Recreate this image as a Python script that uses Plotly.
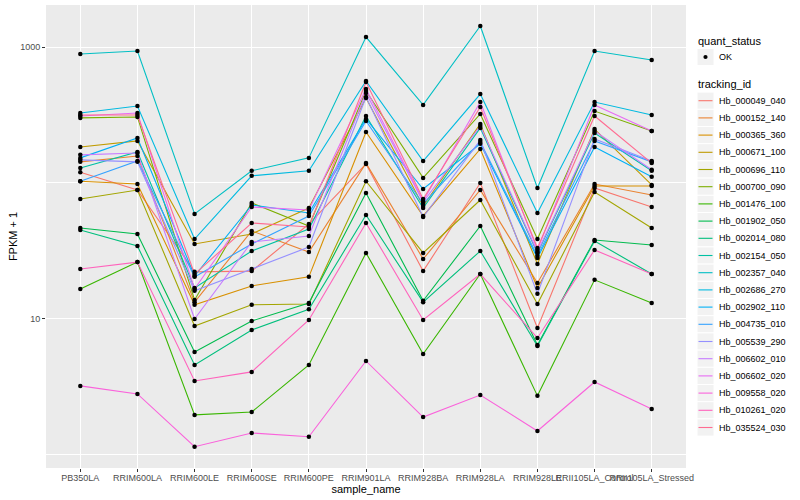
import plotly.graph_objects as go

samples = ["PB350LA", "RRIM600LA", "RRIM600LE", "RRIM600SE", "RRIM600PE", "RRIM901LA",
           "RRIM928BA", "RRIM928LA", "RRIM928LE", "RRII105LA_Control", "RRII105LA_Stressed"]

tracking_ids = ["Hb_000049_040", "Hb_000152_140", "Hb_000365_360", "Hb_000671_100", "Hb_000696_110",
                "Hb_000700_090", "Hb_001476_100", "Hb_001902_050", "Hb_002014_080", "Hb_002154_050",
                "Hb_002357_040", "Hb_002686_270", "Hb_002902_110", "Hb_004735_010", "Hb_005539_290",
                "Hb_006602_010", "Hb_006602_020", "Hb_009558_020", "Hb_010261_020", "Hb_035524_030"]

colors = ["#F8766D", "#EA8331", "#D89000", "#C09B00", "#A3A500", "#7CAE00", "#39B600", "#00BB4E",
          "#00BF7D", "#00C1A3", "#00BFC4", "#00BAE0", "#00B0F6", "#35A2FF", "#9590FF", "#C77CFF",
          "#E76BF3", "#FA62DB", "#FF62BC", "#FF6C91"]

quant_status = ["OK"]

# FPKM + 1 per sample (order of `samples`)
hb_000049_040 = [120, 88.8, 22.2, 22.5, 49.9, 138, 22.5, 100, 8.59, 91.9, 66.6]
hb_000152_140 = [143, 158, 13.3, 44.4, 31.1, 140, 27.6, 88.8, 18.4, 98.3, 81.6]
hb_000365_360 = [103, 98.3, 12.7, 17.5, 20.4, 237, 57.2, 178, 16.9, 95.0, 95.0]
hb_000671_100 = [184, 204, 35.6, 42.2, 65.5, 422, 67.8, 272, 25.4, 249, 96.7]
hb_000696_110 = [76.3, 88.8, 8.88, 12.7, 12.9, 103, 30.6, 75.0, 12.9, 85.9, 46.7]
hb_000700_090 = [301, 306, 13.8, 71.3, 48.3, 475, 109, 322, 38.7, 338, 241]
hb_001476_100 = [16.6, 26.2, 1.97, 2.07, 4.59, 30.6, 5.53, 21.4, 2.72, 19.4, 13.1]
hb_001902_050 = [46.7, 42.2, 5.72, 9.67, 13.1, 84.4, 13.6, 48.3, 6.44, 38.1, 35.0]
hb_002014_080 = [45.1, 34.4, 4.59, 8.30, 11.8, 58.2, 13.3, 31.6, 6.33, 37.5, 21.4]
hb_002154_050 = [129, 169, 16.9, 31.6, 45.9, 311, 65.5, 254, 30.6, 233, 123]
hb_002357_040 = [888, 935, 59.2, 123, 153, 1184, 375, 1427, 91.9, 935, 802]
hb_002686_270 = [327, 368, 38.7, 113, 123, 562, 145, 451, 60.2, 394, 316]
hb_002902_110 = [153, 214, 20.7, 68.9, 60.2, 296, 90.3, 194, 28.1, 184, 111]
hb_004735_010 = [103, 145, 20.4, 35.6, 57.2, 286, 70.1, 200, 29.1, 204, 143]
hb_005539_290 = [148, 143, 16.1, 23.3, 33.8, 429, 56.2, 207, 15.3, 211, 145]
hb_006602_010 = [161, 166, 10.0, 36.8, 40.8, 459, 72.5, 262, 31.1, 241, 125]
hb_006602_020 = [311, 327, 16.6, 66.6, 63.3, 491, 73.7, 394, 32.2, 375, 241]
hb_009558_020 = [3.22, 2.81, 1.15, 1.45, 1.36, 4.91, 1.90, 2.76, 1.50, 3.44, 2.18]
hb_010261_020 = [23.3, 26.2, 3.50, 4.08, 9.83, 50.8, 9.83, 21.4, 7.25, 32.2, 21.4]
hb_035524_030 = [316, 316, 21.4, 50.8, 47.5, 553, 76.3, 362, 33.3, 311, 140]

series = [hb_000049_040, hb_000152_140, hb_000365_360, hb_000671_100, hb_000696_110,
          hb_000700_090, hb_001476_100, hb_001902_050, hb_002014_080, hb_002154_050,
          hb_002357_040, hb_002686_270, hb_002902_110, hb_004735_010, hb_005539_290,
          hb_006602_010, hb_006602_020, hb_009558_020, hb_010261_020, hb_035524_030]

FONT = "Liberation Sans, Arial, sans-serif"
W, H = 800, 500
ML, MR, MT, MB = 46, 114, 5, 32
PW, PH = W - ML - MR, H - MT - MB


def px(xp):
    return (xp - ML) / PW


def py(yp):
    return (H - MB - yp) / PH


fig = go.Figure()

for name, col, vals in zip(tracking_ids, colors, series):
    fig.add_trace(go.Scatter(
        x=samples, y=vals, mode="lines", name=name,
        line=dict(color=col, width=1.1), showlegend=False, hoverinfo="skip"))

all_x, all_y = [], []
for vals in series:
    all_x += samples
    all_y += vals
fig.add_trace(go.Scatter(
    x=all_x, y=all_y, mode="markers", name=quant_status[0],
    marker=dict(color="black", size=4.5), showlegend=False))

# ---- ggplot-style legends (built from the category lists) ----
shapes, annotations = [], []
KEY_X0, KEY_X1, TEXT_X = 697, 714, 717
KEY_H = 17.2


def add_title(text, yc):
    annotations.append(dict(text=text, x=px(696), y=py(yc), xref="paper", yref="paper",
                            xanchor="left", yanchor="middle", showarrow=False,
                            font=dict(size=11, color="black", family=FONT)))


def add_key(yc, label):
    shapes.append(dict(type="rect", xref="paper", yref="paper",
                       x0=px(KEY_X0), x1=px(KEY_X1), y0=py(yc + KEY_H / 2), y1=py(yc - KEY_H / 2),
                       fillcolor="#F2F2F2", line=dict(color="white", width=1), layer="above"))
    annotations.append(dict(text=label, x=px(TEXT_X), y=py(yc), xref="paper", yref="paper",
                            xanchor="left", yanchor="middle", showarrow=False,
                            font=dict(size=9, color="black", family=FONT)))


add_title("quant_status", 41)
for i, q in enumerate(quant_status):
    yc = 57 + i * KEY_H
    add_key(yc, q)
    r = 2.1
    xc = (KEY_X0 + KEY_X1) / 2
    shapes.append(dict(type="circle", xref="paper", yref="paper",
                       x0=px(xc - r), x1=px(xc + r), y0=py(yc + r), y1=py(yc - r),
                       fillcolor="black", line=dict(color="black", width=0), layer="above"))

add_title("tracking_id", 84)
for i, (tid, col) in enumerate(zip(tracking_ids, colors)):
    yc = 100.7 + i * KEY_H
    add_key(yc, tid)
    shapes.append(dict(type="line", xref="paper", yref="paper",
                       x0=px(KEY_X0 + 1.5), x1=px(KEY_X1 - 1.5), y0=py(yc), y1=py(yc),
                       line=dict(color=col, width=1.1), layer="above"))

fig.update_layout(
    width=W, height=H,
    margin=dict(l=ML, r=MR, t=MT, b=MB, autoexpand=False),
    paper_bgcolor="white", plot_bgcolor="#EBEBEB",
    font=dict(family=FONT, size=9, color="#4D4D4D"),
    showlegend=False, shapes=shapes, annotations=annotations,
)

fig.update_xaxes(
    type="category", categoryorder="array", categoryarray=samples,
    range=[-0.6, len(samples) - 0.4], automargin=False,
    showgrid=True, gridcolor="white", gridwidth=1.1,
    ticks="outside", ticklen=3, tickcolor="#333333", tickwidth=1,
    ticklabelstandoff=-2,
    tickangle=0, tickfont=dict(size=9, color="#4D4D4D", family=FONT),
    title=dict(text="sample_name", font=dict(size=11, color="black", family=FONT), standoff=0),
    zeroline=False, showline=False)

fig.update_yaxes(
    type="log", range=[-0.096, 3.309], automargin=False,
    tickvals=[10, 1000], ticktext=["10", "1000"],
    showgrid=True, gridcolor="white", gridwidth=1.1,
    minor=dict(tickvals=[1, 100], showgrid=True, gridcolor="white", gridwidth=0.5, ticks=""),
    ticks="outside", ticklen=3, tickcolor="#333333", tickwidth=1,
    tickfont=dict(size=9, color="#4D4D4D", family=FONT),
    title=dict(text="FPKM + 1", font=dict(size=11, color="black", family=FONT), standoff=0),
    zeroline=False, showline=False)

fig.write_html("out.html", config={"displayModeBar": False},
               post_script="document.body.style.margin='0';document.body.style.padding='0';")
